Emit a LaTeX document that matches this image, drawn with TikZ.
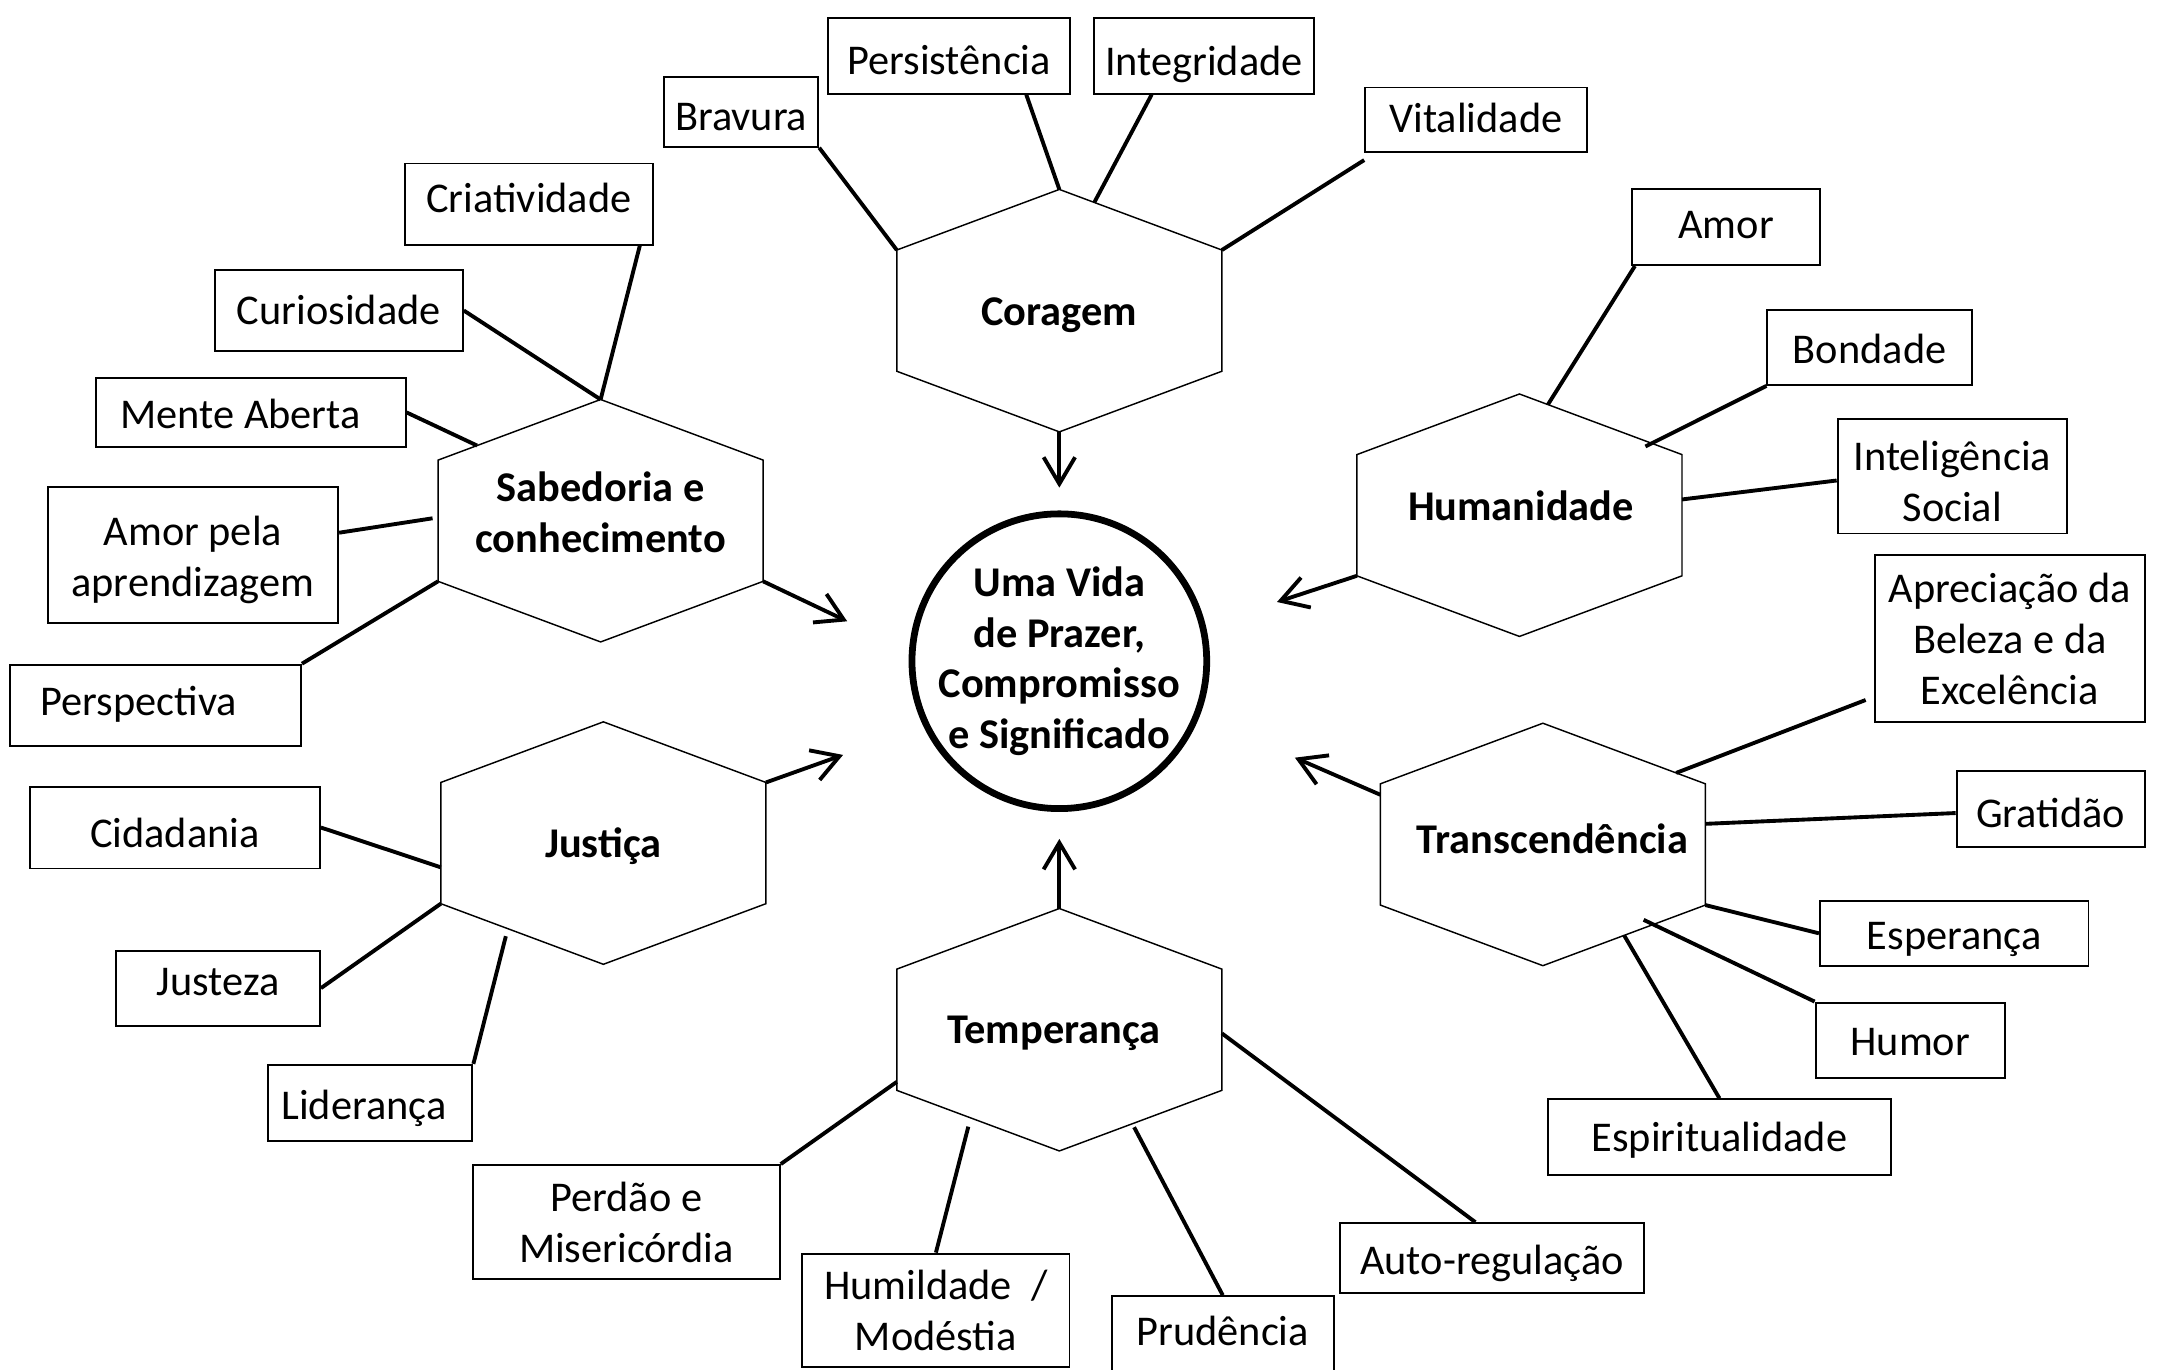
\documentclass[tikz,border=0pt]{standalone}
\usepackage{fontspec}
\setmainfont{Carlito}
\usetikzlibrary{calc,arrows.meta}

\begin{document}
\begin{tikzpicture}[x=0.02cm, y=-0.02cm,
    cbox/.style={draw, line width=0.8pt, inner sep=0pt, align=center, font=\fontsize{17.5}{21}\selectfont},
    sbox/.style={cbox, text depth=0pt, text height=#1},
    hexa/.style={draw, line width=0.6pt, line join=miter},
    hexlabel/.style={align=center, font=\fontsize{17.5}{21}\selectfont\bfseries},
    link/.style={line width=1.6pt},
    arr/.style={line width=1.6pt, -{Straight Barb[length=11pt,width=13pt]}},
    vida/.style={circle, draw, line width=2.8pt, minimum size=4.28cm, inner sep=0pt}]
    \useasboundingbox (0,0) rectangle (1568,994);
    % ---- Hexagons ----
    \foreach \nm/\cx/\cy in {cor/769/225.5, sab/436/378, hum/1103/374, tra/1120/613, jus/438/612, tem/769/747.5} {
      \coordinate (\nm-n)  at (\cx,\cy-88);
      \coordinate (\nm-ne) at (\cx+118,\cy-44);
      \coordinate (\nm-se) at (\cx+118,\cy+44);
      \coordinate (\nm-s)  at (\cx,\cy+88);
      \coordinate (\nm-sw) at (\cx-118,\cy+44);
      \coordinate (\nm-nw) at (\cx-118,\cy-44);
      \draw[hexa] (\nm-n) -- (\nm-ne) -- (\nm-se) -- (\nm-s) -- (\nm-sw) -- (\nm-nw) -- cycle;
    }
    \node[hexlabel] (cor) at (769,229) {Coragem};
    \node[hexlabel] (sab) at (436,372) {Sabedoria e\\conhecimento};
    \node[hexlabel] (hum) at (1104,367) {Humanidade};
    \node[hexlabel] (tra) at (1127,609) {Transcendência};
    \node[hexlabel] (jus) at (438,614) {Justiça};
    \node[hexlabel] (tem) at (765,750) {Temperança};
    % ---- Centre ----
    \node[vida] (vida) at (769,480) {};
    \node[hexlabel] (vidatxt) at (vida.center) {Uma Vida\\de Prazer,\\Compromisso\\e Significado};
    % ---- Coragem ----
    \node[sbox=14.9pt, minimum width=2.24cm, minimum height=1.01cm] (bravura) at (538,81.3) {Bravura};
    \node[sbox=15.2pt, minimum width=3.52cm, minimum height=1.10cm] (persist) at (689,40.5) {Persistência};
    \node[sbox=16.0pt, minimum width=3.20cm, minimum height=1.10cm] (integ) at (874,40.5) {Integridade};
    \node[sbox=10.6pt, minimum width=3.22cm, minimum height=0.94cm] (vital) at (1071.5,87) {Vitalidade};
    \draw[link] (bravura.south east) -- (cor-nw);
    \draw[link] ($(persist.south)+(56,0)$) -- (cor-n);
    \draw[link] ($(integ.south)+(-38,0)$) -- ($(cor-n)!0.215!(cor-ne)$);
    \draw[link] ($(vital.south west)+(0,5)$) -- (cor-ne);
    % ---- Sabedoria ----
    \node[sbox=7.1pt, minimum width=3.59cm, minimum height=1.18cm] (criat) at (384,148.2) {Criatividade};
    \node[sbox=11.9pt, minimum width=3.60cm, minimum height=1.18cm] (curios) at (246,225.4) {Curiosidade};
    \node[sbox=13.1pt, minimum width=4.50cm, minimum height=0.99cm] (mente) at (182,299.4) {\makebox[3.78cm][l]{Mente Aberta}};
    \node[cbox, text depth=0pt, text height=34.4pt, minimum width=4.22cm, minimum height=1.97cm] (amorap) at (140,402.7) {Amor pela\\aprendizagem};
    \node[sbox=8.1pt, minimum width=4.22cm, minimum height=1.18cm] (persp) at (113,512) {\makebox[3.34cm][l]{Perspectiva}};
    \draw[link] ($(criat.south east)+(-10,0)$) -- (sab-n);
    \draw[link] (curios.east) -- (sab-n);
    \draw[link] (mente.east) -- ($(sab-nw)!0.24!(sab-n)$);
    \draw[link] ($(amorap.east)+(0,-16)$) -- ($(sab-nw)!0.48!(sab-sw)+(-4,0)$);
    \draw[link] (persp.north east) -- (sab-sw);
    % ---- Justica ----
    \node[sbox=16.4pt, minimum width=4.21cm, minimum height=1.19cm] (cidad) at (127,600.7) {Cidadania};
    \node[sbox=6.1pt, minimum width=2.96cm, minimum height=1.09cm] (justeza) at (158.3,717.3) {Justeza};
    \node[sbox=13.7pt, minimum width=2.97cm, minimum height=1.10cm] (lider) at (268.7,800.5) {\makebox[2.58cm][l]{Liderança}};
    \draw[link] (cidad.east) -- ($(jus-nw)!0.7!(jus-sw)$);
    \draw[link] (justeza.east) -- (jus-sw);
    \draw[link] (lider.north east) -- ($(jus-sw)!0.4!(jus-s)+(0,6)$);
    % ---- Temperanca ----
    \node[cbox, minimum width=4.46cm, minimum height=1.66cm] (perdao) at (454.6,887.2) {Perdão e\\Misericórdia};
    \node[cbox, minimum width=3.88cm, minimum height=1.64cm] (humild) at (679.4,951) {Humildade\ \ /\\Modéstia};
    \node[sbox=9.1pt, minimum width=3.22cm, minimum height=1.10cm] (prud) at (887.6,968.4) {Prudência};
    \node[sbox=13.8pt, minimum width=4.42cm, minimum height=1.02cm] (autoreg) at (1083,913.4) {Auto-regulação};
    \draw[link] (perdao.north east) -- ($(tem-nw)!0.93!(tem-sw)$);
    \draw[link] (humild.north) -- ($(tem-sw)!0.44!(tem-s)+(0,7)$);
    \draw[link] (prud.north) -- ($(tem-s)!0.46!(tem-se)+(0,3)$);
    \draw[link] ($(autoreg.north)+(-12,0)$) -- ($(tem-ne)!0.53!(tem-se)$);
    % ---- Humanidade ----
    \node[sbox=9.2pt, minimum width=2.74cm, minimum height=1.10cm] (amor) at (1253,164.9) {Amor};
    \node[sbox=13.1pt, minimum width=2.97cm, minimum height=1.09cm] (bond) at (1357.2,252.2) {Bondade};
    \node[cbox, text depth=0pt, text height=37.5pt, minimum width=3.33cm, minimum height=1.66cm] (intel) at (1417.2,345.8) {Inteligência\\Social};
    \draw[link] ($(amor.south west)+(3,0)$) -- ($(hum-n)!0.175!(hum-ne)$);
    \draw[link] (bond.south west) -- ($(hum-n)!0.775!(hum-ne)+(0,4)$);
    \draw[link] ($(intel.west)+(0,3)$) -- ($(hum-ne)!0.37!(hum-se)$);
    % ---- Transcendencia ----
    \node[cbox, minimum width=3.92cm, minimum height=2.43cm] (aprec) at (1459,463.7) {Apreciação da\\Beleza e da\\Excelência};
    \node[sbox=15.2pt, minimum width=2.73cm, minimum height=1.10cm] (gratid) at (1488.6,587.2) {Gratidão};
    \node[sbox=13.4pt, minimum width=3.90cm, minimum height=0.94cm] (esper) at (1418.6,677.5) {Esperança};
    \node[sbox=13.1pt, minimum width=2.75cm, minimum height=1.09cm] (humor) at (1386.7,755) {Humor};
    \node[sbox=11.9pt, minimum width=4.97cm, minimum height=1.10cm] (espirit) at (1248.2,825.5) {Espiritualidade};
    \draw[link] ($(aprec.south west)+(-6,-17)$) -- ($(tra-n)!0.82!(tra-ne)$);
    \draw[link] ($(gratid.west)+(0,3)$) -- ($(tra-ne)!0.33!(tra-se)$);
    \draw[link] (esper.west) -- (tra-se);
    \draw[link] (humor.north west) -- ($(tra-se)!0.38!(tra-s)+(0,-6)$);
    \draw[link] (espirit.north) -- ($(tra-se)!0.5!(tra-s)$);
    % ---- Arrows to the centre ----
    \coordinate (tip-cor) at (769,354);
    \coordinate (tip-sab) at (615,451);
    \coordinate (tip-jus) at (612,548);
    \coordinate (tip-tem) at (769,609);
    \coordinate (tip-hum) at (927,437);
    \coordinate (tip-tra) at (940,550);
    \draw[arr] (cor-s) -- (tip-cor);
    \draw[arr] (sab-se) -- (tip-sab);
    \draw[arr] (jus-ne) -- (tip-jus);
    \draw[arr] (tem-n) -- (tip-tem);
    \draw[arr] (hum-sw) -- (tip-hum);
    \draw[arr] ($(tra-nw)!0.09!(tra-sw)$) -- (tip-tra);
\end{tikzpicture}
\end{document}
